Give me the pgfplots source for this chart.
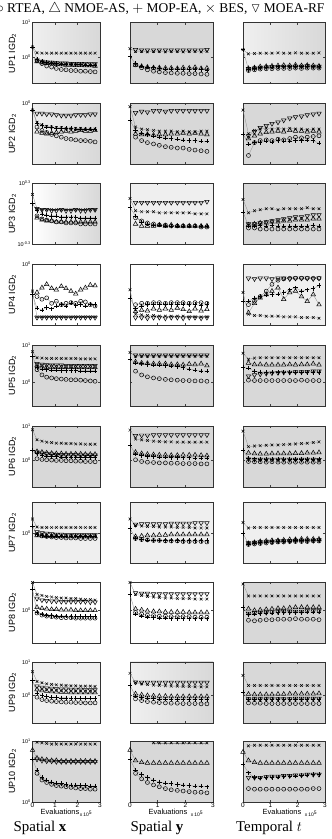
\documentclass[border=0pt]{standalone}
\usepackage{fontspec}
\setmainfont{Liberation Serif}
\setsansfont{Liberation Sans}
\usepackage{amssymb}
\usepackage{pgfplots}
\usepackage{pgfplotstable}
\pgfplotsset{compat=1.18}
\definecolor{bgG}{RGB}{216,216,216}

\pgfplotsset{
  ser/.style={draw=black!45, line width=0.3pt, mark options={draw=black, fill=none, line width=0.5pt, solid}},
  base/.style={scale only axis, height=61bp, xmin=0, xmax=3, xtick={0,1,2,3}, xticklabels={},
    tick align=inside, major tick length=2bp, tick style={black!75, line width=0.4pt},
    axis line style={black!80, line width=0.6pt}, anchor=north west, yticklabels={},
    yticklabel style={font=\sffamily\fontsize{5.5}{6}\selectfont, inner sep=1.5pt},
    xticklabel style={font=\sffamily\fontsize{6.5}{7}\selectfont, inner sep=1pt},
    axis background/.style={fill=bgG}},
  c1/.style={base,width=67.5bp},
  c2/.style={base,width=83bp},
  c3/.style={base,width=82bp},
  bgW/.style={axis background/.style={fill=white}},
  bgL/.style={axis background/.style={fill=bgG!40}},
  bgGL/.style={axis background/.style={left color=bgG!40, right color=bgG}},
  bgWG/.style={axis background/.style={left color=white, right color=bgG}},
  r1/.style={ymin=-0.76,ymax=1,ytick={0,1}},
  r2/.style={ymin=-0.9,ymax=0,ytick={0}},
  r3/.style={ymin=-0.3,ymax=0.3,ytick={-0.3,0.3}},
  r4/.style={ymin=-0.9,ymax=0,ytick={0}},
  r5/.style={ymin=-0.63,ymax=1,ytick={0,1}},
  r6/.style={ymin=-0.77,ymax=1,ytick={0,1}},
  r7/.style={ymin=-0.6,ymax=0.62,ytick={0}},
  r8/.style={ymin=-0.64,ymax=0.54,ytick={0}},
  r9/.style={ymin=-0.82,ymax=1,ytick={0,1}},
  r10/.style={ymin=0,ymax=1,ytick={0,1}},
  lab01/.style={yticklabels={10\textsuperscript{0},10\textsuperscript{1}}},
  lab0/.style={yticklabels={10\textsuperscript{0}}},
  lab3/.style={yticklabels={10\textsuperscript{-0.3},10\textsuperscript{0.3}}},
  bottom/.style={xticklabels={0,1,2,3}},
}

\newcommand{\five}[1]{%
  \addplot[ser,mark=o,mark size=2.0bp] table[x index=0,y index=1]{#1};
  \addplot[ser,mark=triangle,mark size=2.6bp] table[x index=0,y index=2]{#1};
  \addplot[ser,mark=+,mark size=2.2bp] table[x index=0,y index=3]{#1};
  \addplot[ser,mark=x,mark size=1.9bp] table[x index=0,y index=4]{#1};
  \addplot[ser,mark=triangle,mark size=2.6bp,every mark/.append style={rotate=180}] table[x index=0,y index=5]{#1};
}

% columns: x  o(RTEA)  tri(NMOE-AS)  +(MOP-EA)  x(BES)  tridown(MOEA-RF)   [log10 IGD2]
\pgfplotstableread{
x o t p c d
0 nan nan 0.30 0.30 nan
0.20 -0.10 -0.12 -0.05 0.13 -0.08
0.42 -0.18 -0.15 -0.12 0.12 -0.12
0.63 -0.25 -0.17 -0.15 0.12 -0.14
0.85 -0.28 -0.18 -0.17 0.12 -0.15
1.06 -0.32 -0.20 -0.18 0.12 -0.16
1.28 -0.35 -0.21 -0.19 0.12 -0.17
1.49 -0.36 -0.22 -0.20 0.12 -0.17
1.71 -0.38 -0.22 -0.20 0.12 -0.18
1.92 -0.38 -0.23 -0.21 0.12 -0.18
2.14 -0.40 -0.23 -0.21 0.12 -0.18
2.35 -0.40 -0.24 -0.22 0.12 -0.18
2.57 -0.41 -0.24 -0.22 0.12 -0.19
2.78 -0.42 -0.25 -0.22 0.12 -0.19
}\tAA
\pgfplotstableread{
x o t p c d
0 nan nan 0.02 0.25 nan
0.20 -0.22 -0.22 -0.18 0.17 0.22
0.42 -0.30 -0.26 -0.25 0.17 0.21
0.63 -0.36 -0.28 -0.28 0.16 0.21
0.85 -0.40 -0.30 -0.30 0.17 0.21
1.06 -0.42 -0.30 -0.32 0.17 0.21
1.28 -0.44 -0.31 -0.33 0.16 0.21
1.49 -0.45 -0.31 -0.33 0.17 0.21
1.71 -0.46 -0.32 -0.34 0.17 0.21
1.92 -0.46 -0.30 -0.34 0.16 0.21
2.14 -0.47 -0.31 -0.35 0.17 0.21
2.35 -0.47 -0.29 -0.35 0.17 0.21
2.57 -0.48 -0.32 -0.35 0.16 0.21
2.78 -0.49 -0.31 -0.36 0.17 0.22
}\tAB
\pgfplotstableread{
x o t p c d
0 nan nan 0.22 0.22 nan
0.20 -0.38 -0.32 -0.35 0.10 -0.33
0.42 -0.36 -0.30 -0.32 0.11 -0.31
0.63 -0.34 -0.27 -0.30 0.12 -0.29
0.85 -0.33 -0.26 -0.28 0.12 -0.28
1.06 -0.33 -0.25 -0.28 0.12 -0.27
1.28 -0.32 -0.24 -0.27 0.13 -0.27
1.49 -0.32 -0.23 -0.27 0.12 -0.26
1.71 -0.32 -0.24 -0.27 0.12 -0.26
1.92 -0.31 -0.22 -0.26 0.13 -0.26
2.14 -0.32 -0.24 -0.27 0.12 -0.26
2.35 -0.31 -0.23 -0.26 0.12 -0.25
2.57 -0.31 -0.24 -0.27 0.12 -0.26
2.78 -0.31 -0.25 -0.26 0.13 -0.26
}\tAC
\pgfplotstableread{
x o t p c d
0 nan nan -0.10 -0.10 nan
0.20 -0.35 -0.42 -0.30 -0.28 -0.15
0.42 -0.40 -0.44 -0.33 -0.32 -0.15
0.63 -0.43 -0.45 -0.35 -0.34 -0.16
0.85 -0.46 -0.44 -0.36 -0.35 -0.16
1.06 -0.48 -0.43 -0.37 -0.36 -0.17
1.28 -0.50 -0.42 -0.37 -0.36 -0.18
1.49 -0.52 -0.41 -0.37 -0.37 -0.18
1.71 -0.53 -0.42 -0.37 -0.37 -0.18
1.92 -0.54 -0.41 -0.38 -0.37 -0.17
2.14 -0.55 -0.40 -0.38 -0.37 -0.17
2.35 -0.55 -0.41 -0.38 -0.38 -0.17
2.57 -0.56 -0.41 -0.38 -0.38 -0.16
2.78 -0.57 -0.40 -0.38 -0.38 -0.16
}\tBA
\pgfplotstableread{
x o t p c d
0 nan nan -0.25 -0.05 nan
0.20 -0.50 -0.45 -0.40 -0.35 -0.14
0.42 -0.55 -0.46 -0.44 -0.38 -0.12
0.63 -0.58 -0.46 -0.46 -0.39 -0.13
0.85 -0.60 -0.47 -0.48 -0.40 -0.11
1.06 -0.62 -0.46 -0.50 -0.41 -0.11
1.28 -0.64 -0.46 -0.51 -0.41 -0.12
1.49 -0.65 -0.45 -0.52 -0.41 -0.11
1.71 -0.66 -0.45 -0.53 -0.42 -0.11
1.92 -0.66 -0.44 -0.54 -0.41 -0.11
2.14 -0.68 -0.45 -0.55 -0.42 -0.11
2.35 -0.69 -0.44 -0.55 -0.42 -0.11
2.57 -0.70 -0.45 -0.56 -0.41 -0.11
2.78 -0.71 -0.46 -0.56 -0.41 -0.11
}\tBB
\pgfplotstableread{
x o t p c d
0 nan nan -0.45 -0.10 nan
0.20 -0.77 -0.52 -0.60 -0.45 -0.48
0.42 -0.58 -0.48 -0.58 -0.40 -0.42
0.63 -0.55 -0.45 -0.58 -0.38 -0.36
0.85 -0.54 -0.43 -0.56 -0.37 -0.33
1.06 -0.55 -0.42 -0.57 -0.38 -0.30
1.28 -0.53 -0.41 -0.55 -0.37 -0.28
1.49 -0.54 -0.42 -0.56 -0.38 -0.25
1.71 -0.52 -0.40 -0.56 -0.37 -0.22
1.92 -0.50 -0.41 -0.55 -0.38 -0.20
2.14 -0.51 -0.41 -0.55 -0.38 -0.19
2.35 -0.50 -0.42 -0.54 -0.39 -0.17
2.57 -0.49 -0.41 -0.55 -0.38 -0.16
2.78 -0.48 -0.42 -0.59 -0.38 -0.15
}\tBC
\pgfplotstableread{
x o t p c d
0 nan nan 0.10 0.19 nan
0.20 -0.02 -0.04 0.03 0.05 0.05
0.42 -0.05 -0.06 0.00 0.04 0.04
0.63 -0.06 -0.07 -0.01 0.04 0.04
0.85 -0.07 -0.07 -0.02 0.04 0.03
1.06 -0.08 -0.08 -0.02 0.04 0.03
1.28 -0.08 -0.08 -0.03 0.04 0.04
1.49 -0.09 -0.08 -0.03 0.04 0.03
1.71 -0.09 -0.08 -0.03 0.04 0.03
1.92 -0.09 -0.08 -0.03 0.04 0.04
2.14 -0.10 -0.08 -0.04 0.04 0.03
2.35 -0.10 -0.08 -0.04 0.04 0.03
2.57 -0.10 -0.08 -0.04 0.04 0.04
2.78 -0.10 -0.08 -0.04 0.04 0.04
}\tCA
\pgfplotstableread{
x o t p c d
0 nan nan 0.06 0.15 nan
0.20 -0.04 -0.10 -0.02 0.03 0.11
0.42 -0.07 -0.12 -0.08 0.02 0.11
0.63 -0.09 -0.12 -0.10 0.02 0.11
0.85 -0.10 -0.12 -0.11 0.02 0.11
1.06 -0.11 -0.11 -0.11 0.01 0.11
1.28 -0.11 -0.12 -0.12 0.01 0.11
1.49 -0.12 -0.11 -0.12 0.01 0.11
1.71 -0.12 -0.12 -0.12 0.01 0.11
1.92 -0.12 -0.12 -0.12 0.01 0.11
2.14 -0.12 -0.12 -0.12 0.01 0.11
2.35 -0.12 -0.12 -0.12 0.00 0.11
2.57 -0.13 -0.12 -0.12 0.00 0.11
2.78 -0.13 -0.12 -0.12 0.00 0.12
}\tCB
\pgfplotstableread{
x o t p c d
0 nan nan 0.02 0.14 nan
0.20 -0.14 -0.11 -0.12 0.01 -0.10
0.42 -0.14 -0.10 -0.12 0.03 -0.10
0.63 -0.15 -0.09 -0.11 0.04 -0.09
0.85 -0.15 -0.09 -0.12 0.05 -0.08
1.06 -0.15 -0.08 -0.11 0.05 -0.07
1.28 -0.15 -0.08 -0.12 0.04 -0.06
1.49 -0.15 -0.07 -0.12 0.05 -0.05
1.71 -0.15 -0.07 -0.12 0.05 -0.04
1.92 -0.15 -0.06 -0.12 0.05 -0.03
2.14 -0.15 -0.06 -0.12 0.05 -0.03
2.35 -0.15 -0.06 -0.12 0.06 -0.02
2.57 -0.15 -0.05 -0.11 0.05 -0.01
2.78 -0.15 -0.05 -0.12 0.05 -0.01
}\tCC
\pgfplotstableread{
x o t p c d
0 nan nan -0.45 -0.40 nan
0.20 -0.48 -0.42 -0.65 -0.78 -0.79
0.42 -0.52 -0.35 -0.68 -0.78 -0.79
0.63 -0.50 -0.30 -0.64 -0.78 -0.79
0.85 -0.58 -0.36 -0.66 -0.78 -0.79
1.06 -0.55 -0.38 -0.62 -0.78 -0.79
1.28 -0.60 -0.33 -0.60 -0.78 -0.79
1.49 -0.58 -0.36 -0.62 -0.78 -0.79
1.71 -0.57 -0.40 -0.58 -0.78 -0.79
1.92 -0.58 -0.44 -0.61 -0.78 -0.79
2.14 -0.55 -0.38 -0.60 -0.78 -0.79
2.35 -0.56 -0.35 -0.62 -0.78 -0.79
2.57 -0.60 -0.31 -0.59 -0.78 -0.79
2.78 -0.62 -0.32 -0.60 -0.78 -0.79
}\tDA
\pgfplotstableread{
x o t p c d
0 nan nan -0.50 -0.38 nan
0.20 -0.60 -0.70 -0.66 -0.74 -0.79
0.42 -0.58 -0.68 -0.62 -0.75 -0.79
0.63 -0.58 -0.69 -0.60 -0.76 -0.80
0.85 -0.57 -0.66 -0.60 -0.76 -0.79
1.06 -0.57 -0.68 -0.60 -0.77 -0.79
1.28 -0.58 -0.66 -0.59 -0.77 -0.80
1.49 -0.57 -0.68 -0.60 -0.77 -0.79
1.71 -0.57 -0.65 -0.60 -0.77 -0.79
1.92 -0.57 -0.67 -0.59 -0.77 -0.80
2.14 -0.58 -0.70 -0.60 -0.78 -0.79
2.35 -0.57 -0.66 -0.60 -0.78 -0.79
2.57 -0.57 -0.69 -0.61 -0.78 -0.80
2.78 -0.58 -0.67 -0.60 -0.78 -0.79
}\tDB
\pgfplotstableread{
x o t p c d
0 nan nan -0.55 -0.42 nan
0.20 -0.60 -0.72 -0.55 -0.74 -0.21
0.42 -0.55 -0.58 -0.50 -0.76 -0.22
0.63 -0.48 -0.50 -0.48 -0.76 -0.21
0.85 -0.40 -0.45 -0.46 -0.77 -0.21
1.06 -0.30 -0.40 -0.45 -0.77 -0.22
1.28 -0.24 -0.35 -0.44 -0.77 -0.21
1.49 -0.22 -0.52 -0.42 -0.78 -0.21
1.71 -0.21 -0.42 -0.38 -0.78 -0.22
1.92 -0.21 -0.40 -0.35 -0.78 -0.21
2.14 -0.21 -0.48 -0.40 -0.79 -0.21
2.35 -0.21 -0.55 -0.38 -0.79 -0.21
2.57 -0.21 -0.45 -0.36 -0.79 -0.22
2.78 -0.21 -0.60 -0.32 -0.80 -0.21
}\tDC
\pgfplotstableread{
x o t p c d
0 nan nan 0.70 0.82 nan
0.20 0.34 0.45 0.40 0.66 0.50
0.42 0.20 0.42 0.36 0.65 0.48
0.63 0.14 0.41 0.34 0.64 0.47
0.85 0.12 0.41 0.33 0.64 0.46
1.06 0.10 0.40 0.33 0.64 0.46
1.28 0.09 0.40 0.32 0.64 0.46
1.49 0.08 0.40 0.32 0.64 0.45
1.71 0.07 0.40 0.32 0.64 0.45
1.92 0.07 0.40 0.32 0.64 0.45
2.14 0.06 0.40 0.31 0.63 0.45
2.35 0.05 0.40 0.31 0.63 0.45
2.57 0.04 0.40 0.31 0.63 0.45
2.78 0.03 0.40 0.31 0.63 0.45
}\tEA
\pgfplotstableread{
x o t p c d
0 nan nan 0.62 0.80 nan
0.20 0.30 0.55 0.52 0.70 0.73
0.42 0.20 0.52 0.50 0.70 0.73
0.63 0.15 0.51 0.48 0.70 0.73
0.85 0.12 0.50 0.47 0.70 0.73
1.06 0.10 0.50 0.46 0.70 0.73
1.28 0.08 0.50 0.45 0.70 0.73
1.49 0.07 0.48 0.44 0.70 0.73
1.71 0.06 0.48 0.42 0.70 0.73
1.92 0.05 0.47 0.40 0.70 0.73
2.14 0.05 0.49 0.36 0.70 0.73
2.35 0.04 0.48 0.33 0.70 0.73
2.57 0.04 0.50 0.31 0.70 0.73
2.78 0.03 0.45 0.30 0.70 0.73
}\tEB
\pgfplotstableread{
x o t p c d
0 nan nan 0.40 0.78 nan
0.20 0.06 0.52 0.38 0.62 0.17
0.42 0.05 0.48 0.30 0.65 0.20
0.63 0.05 0.48 0.28 0.66 0.22
0.85 0.05 0.47 0.27 0.66 0.24
1.06 0.05 0.47 0.27 0.66 0.25
1.28 0.05 0.47 0.27 0.66 0.26
1.49 0.05 0.47 0.27 0.66 0.27
1.71 0.05 0.48 0.27 0.66 0.27
1.92 0.05 0.47 0.27 0.66 0.28
2.14 0.06 0.48 0.27 0.66 0.28
2.35 0.05 0.48 0.27 0.66 0.29
2.57 0.05 0.50 0.27 0.66 0.30
2.78 0.05 0.47 0.27 0.66 0.30
}\tEC
\pgfplotstableread{
x o t p c d
0 nan nan 0.30 0.89 nan
0.20 0.05 0.26 0.20 0.60 0.24
0.42 0.03 0.24 0.16 0.56 0.21
0.63 0.02 0.22 0.13 0.53 0.19
0.85 0.01 0.21 0.12 0.52 0.18
1.06 0.00 0.20 0.11 0.50 0.17
1.28 0.00 0.20 0.10 0.50 0.16
1.49 -0.01 0.19 0.10 0.49 0.16
1.71 -0.01 0.19 0.10 0.49 0.16
1.92 -0.02 0.19 0.10 0.48 0.16
2.14 -0.02 0.19 0.09 0.48 0.15
2.35 -0.03 0.18 0.09 0.47 0.15
2.57 -0.03 0.18 0.09 0.47 0.15
2.78 -0.04 0.18 0.09 0.47 0.15
}\tFA
\pgfplotstableread{
x o t p c d
0 nan nan 0.45 0.88 nan
0.20 0.02 0.24 0.18 0.62 0.72
0.42 -0.03 0.20 0.14 0.60 0.73
0.63 -0.05 0.18 0.12 0.58 0.73
0.85 -0.06 0.17 0.11 0.56 0.74
1.06 -0.07 0.16 0.10 0.55 0.74
1.28 -0.07 0.16 0.10 0.54 0.74
1.49 -0.08 0.15 0.09 0.54 0.74
1.71 -0.08 0.15 0.09 0.53 0.74
1.92 -0.09 0.16 0.08 0.53 0.74
2.14 -0.09 0.16 0.08 0.53 0.74
2.35 -0.09 0.16 0.07 0.53 0.74
2.57 -0.10 0.15 0.07 0.53 0.74
2.78 -0.10 0.14 0.07 0.53 0.74
}\tFB
\pgfplotstableread{
x o t p c d
0 nan nan 0.30 0.85 nan
0.20 -0.03 0.22 0.06 0.40 0.04
0.42 -0.04 0.20 0.05 0.42 0.03
0.63 -0.04 0.19 0.04 0.43 0.03
0.85 -0.05 0.19 0.04 0.44 0.03
1.06 -0.04 0.20 0.04 0.45 0.03
1.28 -0.05 0.20 0.04 0.45 0.03
1.49 -0.05 0.20 0.04 0.46 0.03
1.71 -0.05 0.20 0.04 0.47 0.03
1.92 -0.05 0.21 0.03 0.48 0.03
2.14 -0.05 0.21 0.04 0.49 0.03
2.35 -0.05 0.22 0.04 0.50 0.03
2.57 -0.05 0.22 0.04 0.52 0.03
2.78 -0.05 0.23 0.04 0.54 0.02
}\tFC
\pgfplotstableread{
x o t p c d
0 nan nan 0.15 0.29 nan
0.20 -0.02 -0.04 -0.02 0.13 0.03
0.42 -0.05 -0.04 -0.04 0.12 0.01
0.63 -0.06 -0.05 -0.05 0.12 0.00
0.85 -0.07 -0.05 -0.05 0.12 -0.01
1.06 -0.08 -0.05 -0.05 0.12 -0.02
1.28 -0.08 -0.06 -0.05 0.12 -0.02
1.49 -0.09 -0.06 -0.05 0.12 -0.03
1.71 -0.09 -0.06 -0.05 0.12 -0.03
1.92 -0.09 -0.06 -0.05 0.12 -0.03
2.14 -0.10 -0.06 -0.05 0.12 -0.03
2.35 -0.10 -0.06 -0.05 0.12 -0.03
2.57 -0.10 -0.06 -0.05 0.12 -0.03
2.78 -0.10 -0.06 -0.05 0.12 -0.03
}\tGA
\pgfplotstableread{
x o t p c d
0 nan nan 0.10 0.29 nan
0.20 -0.10 -0.06 -0.10 0.16 0.18
0.42 -0.12 -0.05 -0.12 0.15 0.19
0.63 -0.13 -0.04 -0.13 0.14 0.19
0.85 -0.14 -0.04 -0.13 0.14 0.19
1.06 -0.14 -0.03 -0.13 0.13 0.19
1.28 -0.15 -0.03 -0.14 0.13 0.19
1.49 -0.15 -0.02 -0.14 0.13 0.20
1.71 -0.15 -0.02 -0.14 0.12 0.20
1.92 -0.16 -0.02 -0.14 0.12 0.20
2.14 -0.16 -0.02 -0.14 0.12 0.20
2.35 -0.16 -0.02 -0.14 0.11 0.21
2.57 -0.16 -0.02 -0.14 0.11 0.21
2.78 -0.17 -0.02 -0.14 0.11 0.21
}\tGB
\pgfplotstableread{
x o t p c d
0 nan nan 0.00 0.22 nan
0.20 -0.22 -0.20 -0.21 0.11 -0.19
0.42 -0.21 -0.18 -0.19 0.12 -0.18
0.63 -0.20 -0.16 -0.18 0.12 -0.17
0.85 -0.19 -0.15 -0.17 0.12 -0.16
1.06 -0.18 -0.14 -0.16 0.12 -0.16
1.28 -0.17 -0.14 -0.16 0.12 -0.15
1.49 -0.17 -0.13 -0.15 0.12 -0.15
1.71 -0.16 -0.12 -0.15 0.12 -0.15
1.92 -0.16 -0.12 -0.14 0.12 -0.14
2.14 -0.16 -0.11 -0.14 0.12 -0.14
2.35 -0.16 -0.11 -0.14 0.12 -0.14
2.57 -0.15 -0.11 -0.14 0.12 -0.14
2.78 -0.15 -0.11 -0.14 0.12 -0.13
}\tGC
\pgfplotstableread{
x o t p c d
0 nan nan 0.40 0.53 nan
0.20 -0.06 0.05 -0.04 0.30 0.22
0.42 -0.10 0.03 -0.08 0.28 0.19
0.63 -0.12 0.02 -0.10 0.26 0.18
0.85 -0.13 0.01 -0.11 0.25 0.17
1.06 -0.14 0.01 -0.12 0.24 0.17
1.28 -0.15 0.00 -0.12 0.23 0.16
1.49 -0.15 0.00 -0.12 0.23 0.16
1.71 -0.15 0.00 -0.13 0.22 0.16
1.92 -0.16 -0.01 -0.13 0.22 0.16
2.14 -0.16 -0.01 -0.13 0.21 0.16
2.35 -0.16 -0.01 -0.13 0.20 0.16
2.57 -0.16 -0.01 -0.13 0.20 0.15
2.78 -0.16 -0.01 -0.13 0.19 0.15
}\tHA
\pgfplotstableread{
x o t p c d
0 nan nan 0.30 0.53 nan
0.20 -0.05 0.02 -0.08 0.30 0.33
0.42 -0.08 0.00 -0.12 0.28 0.32
0.63 -0.10 -0.02 -0.14 0.26 0.32
0.85 -0.11 -0.03 -0.15 0.25 0.31
1.06 -0.12 -0.03 -0.16 0.24 0.31
1.28 -0.12 -0.04 -0.16 0.23 0.31
1.49 -0.13 -0.04 -0.17 0.23 0.31
1.71 -0.13 -0.04 -0.17 0.22 0.31
1.92 -0.13 -0.04 -0.17 0.22 0.31
2.14 -0.13 -0.05 -0.17 0.22 0.31
2.35 -0.14 -0.05 -0.17 0.21 0.31
2.57 -0.14 -0.05 -0.17 0.21 0.31
2.78 -0.14 -0.05 -0.17 0.21 0.31
}\tHB
\pgfplotstableread{
x o t p c d
0 nan nan 0.05 0.50 nan
0.20 -0.20 0.02 -0.09 0.27 -0.07
0.42 -0.21 -0.01 -0.08 0.27 -0.06
0.63 -0.20 0.00 -0.07 0.27 -0.05
0.85 -0.19 0.01 -0.06 0.27 -0.05
1.06 -0.19 0.02 -0.06 0.27 -0.04
1.28 -0.18 0.03 -0.05 0.27 -0.04
1.49 -0.18 0.03 -0.05 0.27 -0.03
1.71 -0.18 0.04 -0.05 0.27 -0.03
1.92 -0.17 0.05 -0.05 0.27 -0.03
2.14 -0.18 0.05 -0.05 0.27 -0.03
2.35 -0.18 0.05 -0.04 0.27 -0.02
2.57 -0.18 0.05 -0.04 0.27 -0.02
2.78 -0.19 0.05 -0.04 0.27 -0.02
}\tHC
\pgfplotstableread{
x o t p c d
0 nan nan 0.45 0.71 nan
0.20 -0.05 0.18 0.08 0.42 0.28
0.42 -0.12 0.15 0.00 0.38 0.24
0.63 -0.15 0.13 -0.03 0.35 0.22
0.85 -0.17 0.12 -0.05 0.33 0.21
1.06 -0.18 0.11 -0.06 0.32 0.20
1.28 -0.19 0.10 -0.07 0.31 0.19
1.49 -0.20 0.10 -0.07 0.30 0.19
1.71 -0.20 0.09 -0.08 0.29 0.18
1.92 -0.21 0.09 -0.08 0.29 0.18
2.14 -0.21 0.09 -0.08 0.28 0.18
2.35 -0.22 0.09 -0.08 0.28 0.17
2.57 -0.22 0.09 -0.08 0.28 0.17
2.78 -0.22 0.09 -0.09 0.27 0.17
}\tIA
\pgfplotstableread{
x o t p c d
0 nan nan 0.30 0.66 nan
0.20 -0.10 0.05 -0.02 0.38 0.40
0.42 -0.15 0.02 -0.06 0.35 0.39
0.63 -0.18 0.00 -0.08 0.33 0.39
0.85 -0.20 -0.01 -0.09 0.31 0.39
1.06 -0.21 -0.02 -0.10 0.30 0.39
1.28 -0.22 -0.02 -0.10 0.29 0.39
1.49 -0.23 -0.03 -0.11 0.28 0.39
1.71 -0.23 -0.03 -0.11 0.28 0.39
1.92 -0.24 -0.03 -0.11 0.27 0.39
2.14 -0.24 -0.03 -0.12 0.27 0.39
2.35 -0.24 -0.03 -0.12 0.26 0.39
2.57 -0.25 -0.03 -0.12 0.26 0.39
2.78 -0.25 -0.03 -0.12 0.26 0.39
}\tIB
\pgfplotstableread{
x o t p c d
0 nan nan 0.10 0.60 nan
0.20 -0.22 0.04 -0.12 0.30 -0.10
0.42 -0.23 0.03 -0.12 0.30 -0.10
0.63 -0.23 0.03 -0.12 0.30 -0.10
0.85 -0.24 0.03 -0.12 0.30 -0.10
1.06 -0.24 0.03 -0.12 0.30 -0.10
1.28 -0.24 0.04 -0.12 0.30 -0.10
1.49 -0.24 0.04 -0.12 0.30 -0.10
1.71 -0.24 0.05 -0.12 0.30 -0.10
1.92 -0.24 0.05 -0.12 0.30 -0.09
2.14 -0.24 0.05 -0.12 0.30 -0.09
2.35 -0.24 0.05 -0.12 0.30 -0.09
2.57 -0.24 0.05 -0.12 0.30 -0.09
2.78 -0.24 0.06 -0.12 0.30 -0.09
}\tIC
\pgfplotstableread{
x o t p c d
0 nan 0.85 0.70 nan nan
0.20 0.47 0.72 0.52 0.98 0.70
0.42 0.36 0.70 0.40 0.97 0.68
0.63 0.32 0.69 0.36 0.96 0.67
0.85 0.29 0.68 0.33 0.95 0.67
1.06 0.27 0.68 0.31 0.95 0.66
1.28 0.26 0.67 0.30 0.95 0.66
1.49 0.25 0.67 0.29 0.95 0.66
1.71 0.24 0.67 0.28 0.95 0.66
1.92 0.23 0.67 0.28 0.95 0.66
2.14 0.22 0.67 0.27 0.95 0.66
2.35 0.22 0.67 0.27 0.95 0.66
2.57 0.21 0.67 0.26 0.95 0.66
2.78 0.21 0.67 0.26 0.95 0.66
}\tJA
\pgfplotstableread{
x o t p c d
0 nan 0.85 0.70 nan nan
0.20 0.47 0.68 0.52 nan nan
0.42 0.38 0.65 0.45 nan nan
0.63 0.32 0.64 0.40 nan nan
0.85 0.28 0.64 0.36 0.97 nan
1.06 0.25 0.64 0.33 0.97 nan
1.28 0.22 0.64 0.31 0.97 nan
1.49 0.20 0.64 0.30 0.97 nan
1.71 0.19 0.64 0.29 0.97 nan
1.92 0.18 0.64 0.28 0.97 nan
2.14 0.17 0.64 0.27 0.97 nan
2.35 0.16 0.64 0.26 0.97 nan
2.57 0.16 0.64 0.26 0.97 nan
2.78 0.15 0.64 0.25 0.97 nan
}\tJB
\pgfplotstableread{
x o t p c d
0 nan 0.82 0.62 nan nan
0.20 0.22 0.68 0.48 0.92 0.40
0.42 0.21 0.65 0.40 0.93 0.40
0.63 0.21 0.64 0.39 0.93 0.40
0.85 0.21 0.64 0.40 0.93 0.41
1.06 0.21 0.64 0.40 0.93 0.42
1.28 0.21 0.64 0.41 0.93 0.42
1.49 0.21 0.64 0.42 0.93 0.43
1.71 0.21 0.64 0.43 0.93 0.43
1.92 0.21 0.64 0.43 0.93 0.44
2.14 0.21 0.64 0.44 0.93 0.44
2.35 0.21 0.64 0.44 0.93 0.45
2.57 0.22 0.64 0.45 0.93 0.45
2.78 0.22 0.64 0.45 0.93 0.45
}\tJC

\begin{document}
\begin{tikzpicture}
\tikzset{ylab/.style={rotate=90, font=\sffamily\fontsize{9}{9}\selectfont}}
% Row 1
\begin{axis}[c1,r1,lab01,bgGL,at={(32.5bp,816.3bp)}] \five{\tAA} \end{axis}
\begin{axis}[c2,r1,at={(130bp,816.3bp)}] \five{\tAB} \end{axis}
\begin{axis}[c3,r1,bgGL,at={(243bp,816.3bp)}] \five{\tAC} \end{axis}
% Row 2
\begin{axis}[c1,r2,lab0,bgGL,at={(32.5bp,735.7bp)}] \five{\tBA} \end{axis}
\begin{axis}[c2,r2,at={(130bp,735.7bp)}] \five{\tBB} \end{axis}
\begin{axis}[c3,r2,at={(243bp,735.7bp)}] \five{\tBC} \end{axis}
% Row 3
\begin{axis}[c1,r3,lab3,bgWG,at={(32.5bp,655.7bp)}] \five{\tCA} \end{axis}
\begin{axis}[c2,r3,bgL,at={(130bp,655.7bp)}] \five{\tCB} \end{axis}
\begin{axis}[c3,r3,at={(243bp,655.7bp)}] \five{\tCC} \end{axis}
% Row 4
\begin{axis}[c1,r4,lab0,bgW,at={(32.5bp,575bp)}] \five{\tDA} \end{axis}
\begin{axis}[c2,r4,bgW,at={(130bp,575bp)}] \five{\tDB} \end{axis}
\begin{axis}[c3,r4,bgL,at={(243bp,575bp)}] \five{\tDC} \end{axis}
% Row 5
\begin{axis}[c1,r5,lab01,at={(32.5bp,494bp)}] \five{\tEA} \end{axis}
\begin{axis}[c2,r5,at={(130bp,494bp)}] \five{\tEB} \end{axis}
\begin{axis}[c3,r5,at={(243bp,494bp)}] \five{\tEC} \end{axis}
% Row 6
\begin{axis}[c1,r6,lab01,at={(32.5bp,413bp)}] \five{\tFA} \end{axis}
\begin{axis}[c2,r6,at={(130bp,413bp)}] \five{\tFB} \end{axis}
\begin{axis}[c3,r6,at={(243bp,413bp)}] \five{\tFC} \end{axis}
% Row 7
\begin{axis}[c1,r7,lab0,bgL,at={(32.5bp,336.5bp)}] \five{\tGA} \end{axis}
\begin{axis}[c2,r7,bgL,at={(130bp,336.5bp)}] \five{\tGB} \end{axis}
\begin{axis}[c3,r7,bgL,at={(243bp,336.5bp)}] \five{\tGC} \end{axis}
% Row 8
\begin{axis}[c1,r8,lab0,bgW,at={(32.5bp,257bp)}] \five{\tHA} \end{axis}
\begin{axis}[c2,r8,bgW,at={(130bp,257bp)}] \five{\tHB} \end{axis}
\begin{axis}[c3,r8,at={(243bp,257bp)}] \five{\tHC} \end{axis}
% Row 9
\begin{axis}[c1,r9,lab01,bgL,at={(32.5bp,177bp)}] \five{\tIA} \end{axis}
\begin{axis}[c2,r9,bgGL,at={(130bp,177bp)}] \five{\tIB} \end{axis}
\begin{axis}[c3,r9,at={(243bp,177bp)}] \five{\tIC} \end{axis}
% Row 10
\begin{axis}[c1,r10,lab01,bottom,at={(32.5bp,98bp)}] \five{\tJA} \end{axis}
\begin{axis}[c2,r10,bottom,at={(130bp,98bp)}] \five{\tJB} \end{axis}
\begin{axis}[c3,r10,bottom,at={(243bp,98bp)}] \five{\tJC} \end{axis}

% y labels
\node[ylab] at (12.5bp,785.8bp) {UP1 IGD\textsubscript{2}};
\node[ylab] at (12.5bp,705.2bp) {UP2 IGD\textsubscript{2}};
\node[ylab] at (12.5bp,625.2bp) {UP3 IGD\textsubscript{2}};
\node[ylab] at (12.5bp,544.5bp) {UP4 IGD\textsubscript{2}};
\node[ylab] at (12.5bp,463.5bp) {UP5 IGD\textsubscript{2}};
\node[ylab] at (12.5bp,382.5bp) {UP6 IGD\textsubscript{2}};
\node[ylab] at (12.5bp,306.0bp) {UP7 IGD\textsubscript{2}};
\node[ylab] at (12.5bp,226.5bp) {UP8 IGD\textsubscript{2}};
\node[ylab] at (12.5bp,146.5bp) {UP9 IGD\textsubscript{2}};
\node[ylab] at (12.5bp,67.5bp) {UP10 IGD\textsubscript{2}};

% x labels
\begin{scope}[every node/.style={font=\sffamily\fontsize{7.5}{8}\selectfont, inner sep=0pt}]
\node at (60bp,27bp) {Evaluations};
\node at (168bp,27bp) {Evaluations};
\node at (282bp,27bp) {Evaluations};
\end{scope}
\begin{scope}[every node/.style={font=\sffamily\fontsize{5}{5}\selectfont, inner sep=0pt}]
\node at (86bp,25bp) {x\,10\textsuperscript{5}};
\node at (197bp,25bp) {x\,10\textsuperscript{5}};
\node at (311bp,25bp) {x\,10\textsuperscript{5}};
\end{scope}

% column titles
\node[font=\fontsize{15}{15}\selectfont] at (40bp,11bp) {Spatial $\mathbf{x}$};
\node[font=\fontsize{15}{15}\selectfont] at (157bp,11bp) {Spatial $\mathbf{y}$};
\node[font=\fontsize{15}{15}\selectfont] at (269bp,11bp) {Temporal $t$};

% legend line (clipped by page)
\node[anchor=base west, font=\fontsize{13.5}{13.5}\selectfont, inner sep=0pt] at (-3.5bp,826.5bp) {$\circ$ RTEA, $\triangle$ NMOE-AS, $+$ MOP-EA, $\times$ BES, $\triangledown$ MOEA-RF};

\pgfresetboundingbox
\useasboundingbox (0,0) rectangle (332bp,839bp);
\end{tikzpicture}
\end{document}
